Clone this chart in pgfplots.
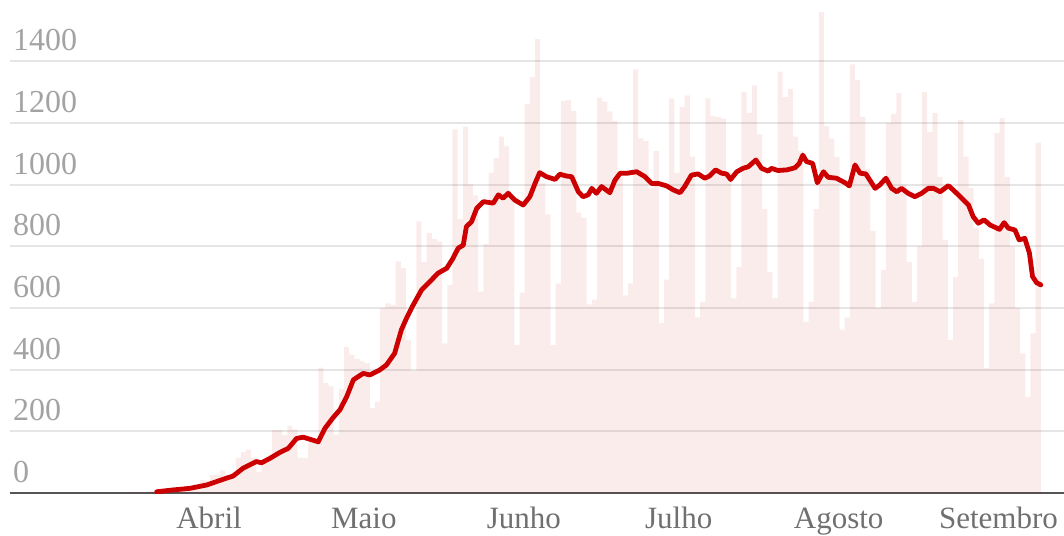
\documentclass[border=0pt]{standalone}
\usepackage{fontspec}
\setmainfont{Liberation Serif}
\usepackage{pgfplots}
\usepackage{pgfplotstable}
\pgfplotsset{compat=1.18}
\definecolor{linered}{RGB}{204,0,0}
\definecolor{gridgray}{RGB}{229,229,229}
\definecolor{ticklab}{RGB}{163,163,163}
\definecolor{monthlab}{RGB}{112,112,112}
\definecolor{basegray}{RGB}{85,85,85}

% daily deaths (day 0 = 1 March 2020)
\pgfplotstableread{
d v
16 1
17 3
18 3
19 4
20 7
21 7
22 9
23 12
24 12
25 18
26 15
27 22
28 22
29 23
30 42
31 40
32 58
33 60
34 73
35 54
36 67
37 114
38 133
39 141
40 115
41 68
42 99
43 105
44 204
45 204
46 188
47 217
48 206
49 115
50 113
51 166
52 165
53 407
54 357
55 346
56 189
57 338
58 474
59 449
60 435
61 428
62 421
63 275
64 296
65 600
66 615
67 610
68 751
69 730
70 496
71 396
72 881
73 749
74 844
75 824
76 816
77 485
78 674
79 1179
80 888
81 1188
82 1001
83 965
84 653
85 807
86 1039
87 1086
88 1156
89 1124
90 956
91 480
92 650
93 1262
94 1349
95 1473
96 1005
97 904
98 480
99 679
100 1272
101 1274
102 1239
103 909
104 892
105 612
106 627
107 1282
108 1269
109 1238
110 1206
111 1022
112 641
113 680
114 1374
115 1150
116 1141
117 990
118 1109
119 552
120 692
121 1280
122 1038
123 1252
124 1290
125 1091
126 570
127 620
128 1280
129 1223
130 1220
131 1214
132 1040
133 631
134 733
135 1300
136 1233
137 1322
138 1163
139 921
140 716
141 632
142 1367
143 1284
144 1311
145 1156
146 1110
147 555
148 620
149 921
150 1560
151 1190
152 1150
153 1090
154 530
155 570
156 1390
157 1340
158 1220
159 1050
160 850
161 600
162 723
163 1200
164 1230
165 1297
166 1000
167 750
168 620
169 800
170 1300
171 1171
172 1232
173 1025
174 821
175 496
176 700
177 1210
178 1091
179 990
180 860
181 760
182 405
183 615
184 1168
185 1216
186 1025
187 800
188 600
189 453
190 312
191 518
192 1136
}\daily

% 7-day moving average
\pgfplotstableread{
d v
21.2 4
24.4 10
27.6 15
30.9 26
32.8 37
34.7 48
36.0 55
37.9 80
39.2 91
40.5 102
41.5 98
43.1 112
45.0 131
46.7 145
48.3 177
49.6 181
52.5 166
53.8 210
55.4 245
56.7 270
58.0 312
59.3 367
61.2 388
62.5 383
64.4 399
65.7 415
67.3 453
68.6 529
69.6 567
70.9 610
72.5 658
74.1 685
75.7 713
77.4 729
78.6 761
79.6 794
80.6 804
81.2 864
82.2 880
83.2 923
84.5 945
86.4 940
87.4 967
88.3 956
89.3 972
90.6 950
92.2 934
93.5 961
94.5 1004
95.4 1039
96.7 1026
98.4 1017
99.3 1034
100.6 1028
101.6 1026
102.9 977
103.8 961
104.8 967
105.5 988
106.4 972
107.4 994
109.0 974
110.0 1015
111.0 1037
112.3 1037
114.2 1042
115.8 1026
117.1 1004
118.4 1004
120.0 996
121.3 983
122.6 974
123.5 994
124.8 1031
126.1 1035
127.4 1021
128.3 1028
129.5 1048
130.7 1037
131.6 1035
132.4 1017
133.6 1042
134.8 1053
135.8 1058
137.3 1080
138.4 1053
139.7 1044
140.3 1053
141.6 1046
143.3 1048
144.9 1055
145.7 1069
146.4 1096
147.1 1075
148.3 1069
149.2 1006
150.4 1042
151.3 1024
152.9 1021
154.6 1006
155.4 996
156.5 1064
157.5 1037
158.6 1035
160.4 988
161.3 999
162.5 1021
163.6 988
164.6 977
165.5 988
166.8 972
168.1 961
169.4 972
170.7 988
171.7 988
173.0 977
174.6 997
175.9 977
177.2 956
178.5 934
179.4 896
180.4 875
181.5 886
182.7 869
184.5 855
185.4 877
186.2 859
187.5 853
188.3 821
189.4 826
190.3 778
190.9 702
191.7 682
192.5 675
}\avg

\begin{document}
\begin{tikzpicture}
\useasboundingbox (0,0) rectangle (1064pt,535pt);
\begin{axis}[
  at={(10pt,42pt)}, anchor=south west,
  scale only axis, width=1054pt, height=493pt,
  xmin=-7.23, xmax=197, ymin=0, ymax=1599,
  axis line style={draw=none},
  major tick length=0pt,
  /pgf/number format/assume math mode=true,
  ytick={0,200,400,600,800,1000,1200,1400},
  yticklabels={0,200,400,600,800,1000,1200,1400},
  yticklabel style={anchor=base west, inner sep=0pt, xshift=3pt, yshift=10.5pt,
    font=\fontsize{32}{38}\selectfont, text=ticklab},
  ymajorgrids,
  major grid style={draw=gridgray, line width=2pt},
  xtick={31.34,61.34,92.34,122.34,153.34,184.3},
  xticklabels={Abril,Maio,Junho,Julho,Agosto,Setembro},
  xticklabel style={anchor=base, inner sep=0pt, yshift=-35pt,
    font=\fontsize{31}{36}\selectfont, text=monthlab},
  extra y ticks={0}, extra y tick labels={},
  extra y tick style={major grid style={draw=basegray, line width=2pt}},
]
\addplot[ybar, bar width=1, fill=linered, fill opacity=0.075, draw=none]
  table[x=d, y=v]{\daily};
\addplot[linered, line width=4.8pt, line join=round, line cap=round]
  table[x=d, y=v]{\avg};
\end{axis}
\end{tikzpicture}
\end{document}
